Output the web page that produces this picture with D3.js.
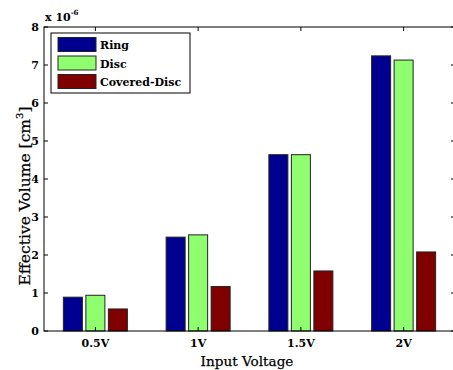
<!DOCTYPE html>
<html>
<head>
<meta charset="utf-8">
<script src="https://cdn.jsdelivr.net/npm/d3@7"></script>
<style>
  body { margin: 0; background: #fff; }
  svg { display: block; }
  text { font-family: "DejaVu Serif", serif; fill: #000; }
</style>
</head>
<body>
<svg id="chart" width="453" height="370"></svg>
<script>
// values in units of 1e-6 cm^3
const categories = ['0.5V', '1V', '1.5V', '2V'];
const seriesNames = ['Ring', 'Disc', 'Covered-Disc'];
const ring = [0.89, 2.47, 4.64, 7.24];
const disc = [0.94, 2.53, 4.64, 7.13];
const coveredDisc = [0.58, 1.17, 1.58, 2.08];
const yTicks = [0, 1, 2, 3, 4, 5, 6, 7, 8];

const colors = ['#000090', '#8fff6f', '#800000'];
const series = [ring, disc, coveredDisc];

const svg = d3.select('#chart');
const m = { left: 44, right: 455, top: 27, bottom: 331 };

// matlab style: categories at 1..4, xlim [0.5, 4.5]
const x = d3.scaleLinear().domain([0.5, 4.5]).range([m.left, m.right]);
const y = d3.scaleLinear().domain([0, 8]).range([m.bottom, m.top]);

const barW = 0.185;
const offsets = [-0.219, 0, 0.219];

// bars
series.forEach((vals, s) => {
  svg.append('g').selectAll('rect')
    .data(vals)
    .join('rect')
    .attr('x', (d, i) => x(i + 1 + offsets[s] - barW / 2))
    .attr('y', (d) => y(d))
    .attr('width', x(barW) - x(0))
    .attr('height', (d) => y(0) - y(d))
    .attr('fill', colors[s])
    .attr('stroke', '#222')
    .attr('stroke-width', 1);
});

// frame
svg.append('rect')
  .attr('x', m.left).attr('y', m.top)
  .attr('width', m.right - m.left).attr('height', m.bottom - m.top)
  .attr('fill', 'none').attr('stroke', '#000').attr('stroke-width', 1);

// ticks inward, on all four sides
const tl = 4;
const axes = svg.append('g').attr('stroke', '#000').attr('stroke-width', 1);
yTicks.forEach((t) => {
  axes.append('line').attr('x1', m.left).attr('x2', m.left + tl).attr('y1', y(t)).attr('y2', y(t));
  axes.append('line').attr('x1', m.right).attr('x2', m.right - tl).attr('y1', y(t)).attr('y2', y(t));
});
categories.forEach((c, i) => {
  axes.append('line').attr('x1', x(i + 1)).attr('x2', x(i + 1)).attr('y1', m.bottom).attr('y2', m.bottom - tl);
  axes.append('line').attr('x1', x(i + 1)).attr('x2', x(i + 1)).attr('y1', m.top).attr('y2', m.top + tl);
});

// tick labels
svg.append('g').selectAll('text')
  .data(yTicks)
  .join('text')
  .attr('x', m.left - 5)
  .attr('y', (d) => y(d) + 4)
  .attr('text-anchor', 'end')
  .attr('font-size', 11)
  .attr('font-weight', 'bold')
  .text((d) => d);

svg.append('g').selectAll('text')
  .data(categories)
  .join('text')
  .attr('x', (d, i) => x(i + 1))
  .attr('y', m.bottom + 16)
  .attr('text-anchor', 'middle')
  .attr('font-size', 11)
  .attr('font-weight', 'bold')
  .text((d) => d);

// exponent
const ex = svg.append('text').attr('x', m.left + 1).attr('y', 21).attr('font-size', 11).attr('font-weight', 'bold');
ex.append('tspan').text('x 10');
ex.append('tspan').attr('dy', -6).attr('font-size', 7).text('-6');

// axis titles
svg.append('text')
  .attr('x', 247)
  .attr('y', 365.5)
  .attr('text-anchor', 'middle')
  .attr('font-size', 13.6)
  .attr('stroke', '#000').attr('stroke-width', 0.25)
  .text('Input Voltage');

const yl = svg.append('text')
  .attr('transform', 'translate(30,196) rotate(-90)')
  .attr('text-anchor', 'middle')
  .attr('font-size', 15.5)
  .attr('stroke', '#000').attr('stroke-width', 0.25);
yl.append('tspan').text('Effective Volume [cm');
yl.append('tspan').attr('dy', -7).attr('font-size', 10).text('3');
yl.append('tspan').attr('dy', 7).text(']');

// legend
const lg = svg.append('g').attr('transform', 'translate(51,33)');
lg.append('rect').attr('width', 139).attr('height', 60)
  .attr('fill', '#fff').attr('stroke', '#000').attr('stroke-width', 1);
seriesNames.forEach((n, i) => {
  lg.append('rect')
    .attr('x', 7).attr('y', 4.5 + i * 18.5)
    .attr('width', 38).attr('height', 14)
    .attr('fill', colors[i]).attr('stroke', '#222');
  lg.append('text')
    .attr('x', 49).attr('y', 16 + i * 18.5)
    .attr('font-size', 11).attr('font-weight', 'bold')
    .text(n);
});
</script>
</body>
</html>
